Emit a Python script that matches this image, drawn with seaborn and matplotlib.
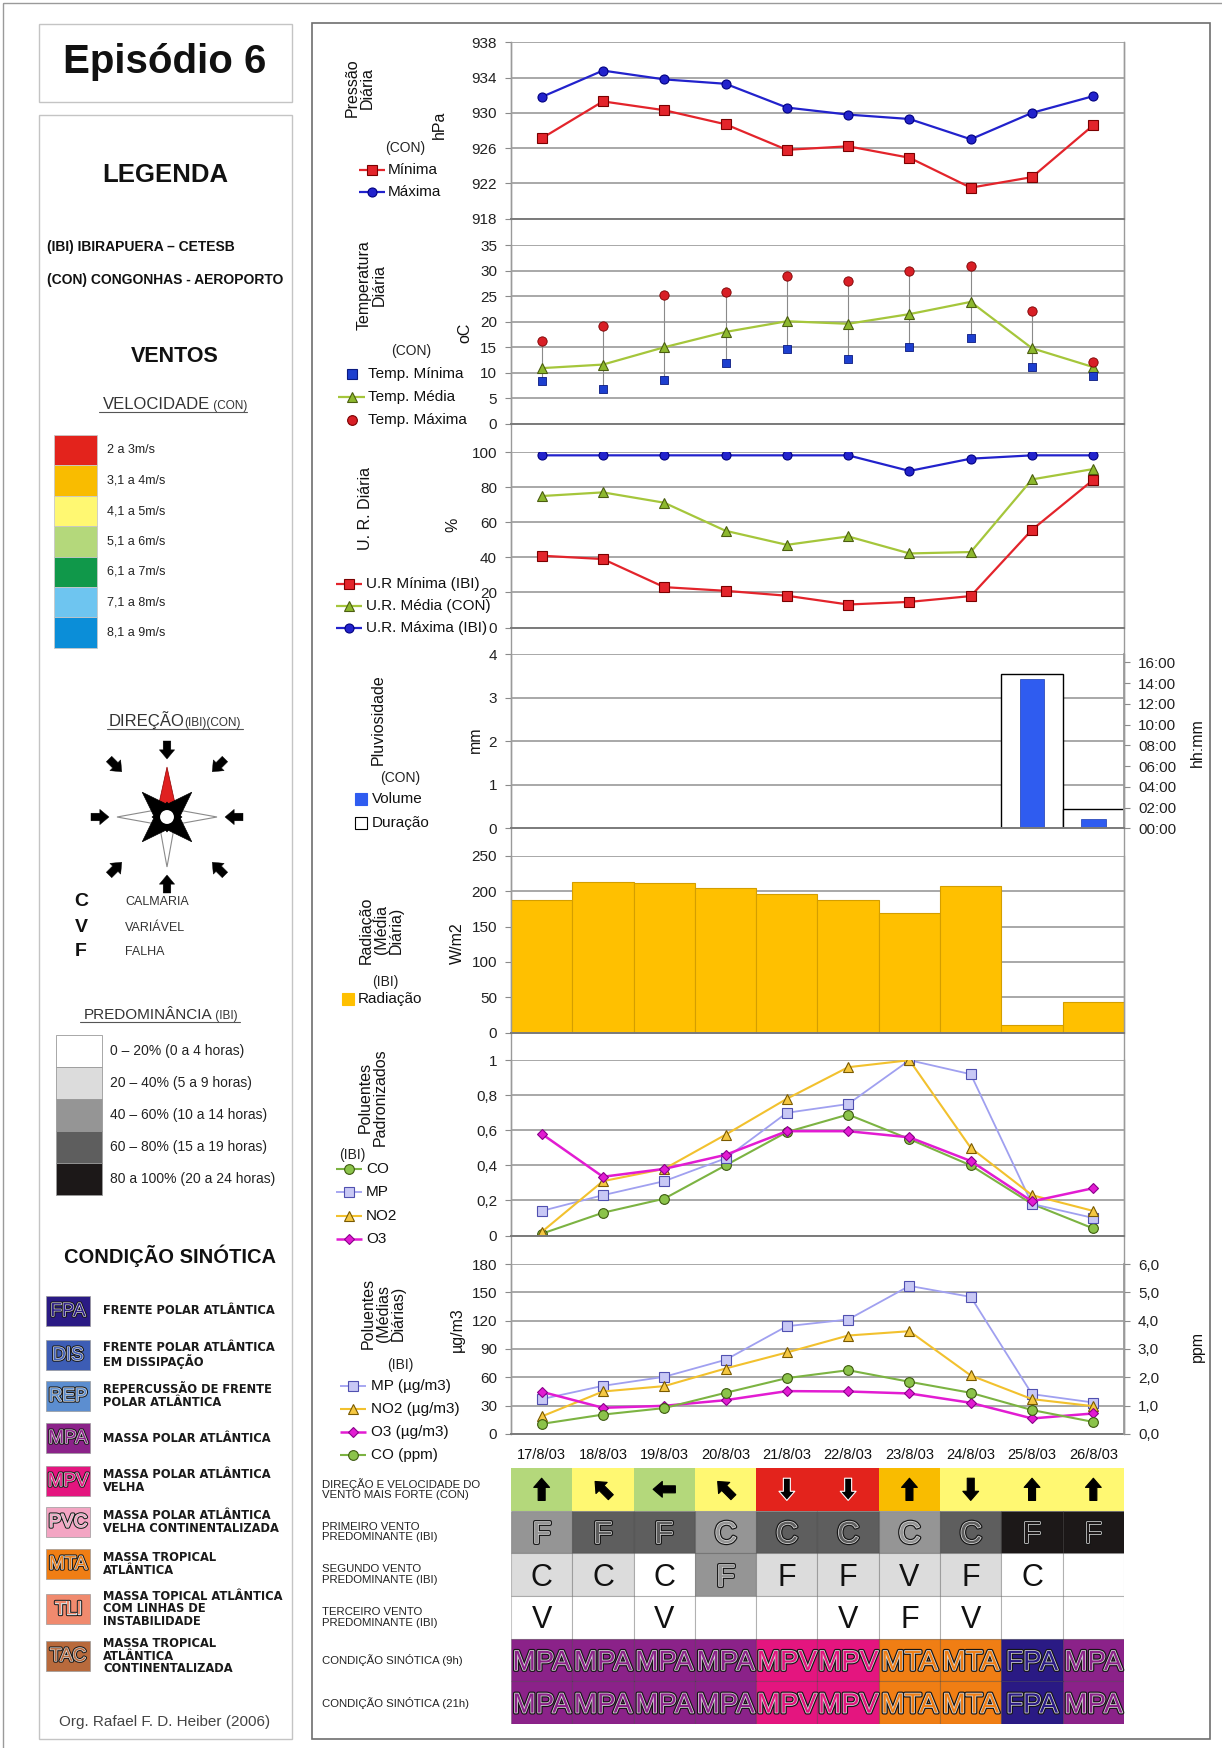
import numpy as np
import pandas as pd
import matplotlib
matplotlib.use("Agg")
import matplotlib.pyplot as plt
import matplotlib.patheffects as pe
from matplotlib.patches import Rectangle, Polygon, Circle
from matplotlib.ticker import FuncFormatter, FixedLocator, NullLocator
from matplotlib.transforms import offset_copy
import seaborn as sns

sns.set_theme(style="white")
plt.rcParams["font.family"] = ["Liberation Sans", "DejaVu Sans"]

# ---------------------------------------------------------------- data
dates = ["17/8/03", "18/8/03", "19/8/03", "20/8/03", "21/8/03",
         "22/8/03", "23/8/03", "24/8/03", "25/8/03", "26/8/03"]

pres_min = [927.1, 931.3, 930.3, 928.7, 925.8, 926.2, 924.9, 921.5, 922.7, 928.6]
pres_max = [931.8, 934.8, 933.8, 933.3, 930.6, 929.8, 929.3, 927.0, 930.0, 931.9]

temp_min = [8.4, 6.9, 8.6, 12.0, 14.6, 12.6, 15.0, 16.9, 11.2, 9.4]
temp_med = [10.9, 11.6, 15.0, 18.0, 20.1, 19.6, 21.5, 23.9, 14.8, 11.1]
temp_max = [16.2, 19.2, 25.2, 25.9, 29.0, 28.0, 29.9, 31.0, 22.2, 12.2]

ur_min = [40.9, 39.0, 23.0, 20.9, 18.1, 13.1, 14.6, 17.9, 55.7, 84.2]
ur_med = [74.9, 77.0, 71.1, 55.1, 47.1, 51.9, 42.2, 43.0, 84.4, 90.3]
ur_max = [98.1, 98.1, 98.1, 98.1, 98.1, 98.1, 89.2, 96.2, 98.1, 98.1]

chuva_mm = [0, 0, 0, 0, 0, 0, 0, 0, 3.43, 0.21]
chuva_horas = [0, 0, 0, 0, 0, 0, 0, 0, 14.9, 1.83]

radiacao = [188, 212.5, 211.5, 204.5, 196, 188, 169.3, 206.8, 10.8, 43.6]

pad_co = [0.01, 0.13, 0.21, 0.40, 0.59, 0.69, 0.55, 0.40, 0.18, 0.04]
pad_mp = [0.14, 0.23, 0.31, 0.44, 0.70, 0.75, 1.00, 0.92, 0.18, 0.10]
pad_no2 = [0.02, 0.31, 0.38, 0.575, 0.78, 0.96, 1.00, 0.50, 0.23, 0.14]
pad_o3 = [0.58, 0.335, 0.38, 0.46, 0.595, 0.595, 0.56, 0.425, 0.195, 0.27]

med_mp = [36.8, 50.9, 60.5, 78.5, 114.2, 121.3, 157.0, 145.3, 42.1, 33.2]
med_no2 = [18.4, 44.9, 50.6, 69.3, 86.3, 104.3, 108.9, 61.9, 36.8, 29.3]
med_o3 = [44.6, 27.6, 29.7, 35.7, 45.3, 44.9, 42.8, 32.9, 16.3, 21.6]
med_co = [0.35, 0.68, 0.91, 1.45, 1.97, 2.25, 1.84, 1.45, 0.84, 0.42]

vento_seta = ["↑", "↖", "←", "↖", "↓", "↓", "↑", "↓", "↑", "↑"]
vento_vel = ["5,1 a 6m/s", "4,1 a 5m/s", "5,1 a 6m/s", "4,1 a 5m/s", "2 a 3m/s",
             "2 a 3m/s", "3,1 a 4m/s", "4,1 a 5m/s", "4,1 a 5m/s", "4,1 a 5m/s"]
vento1 = ["F", "F", "F", "C", "C", "C", "C", "C", "F", "F"]
vento1_pred = [2, 3, 3, 2, 3, 3, 2, 3, 4, 4]
vento2 = ["C", "C", "C", "F", "F", "F", "V", "F", "C", ""]
vento2_pred = [1, 1, 0, 2, 1, 1, 1, 1, 0, 0]
vento3 = ["V", "", "V", "", "", "V", "F", "V", "", ""]
vento3_pred = [0, 0, 0, 0, 0, 0, 0, 0, 0, 0]
sinotica_9h = ["MPA", "MPA", "MPA", "MPA", "MPV", "MPV", "MTA", "MTA", "FPA", "MPA"]
sinotica_21h = ["MPA", "MPA", "MPA", "MPA", "MPV", "MPV", "MTA", "MTA", "FPA", "MPA"]

vel_labels = ["2 a 3m/s", "3,1 a 4m/s", "4,1 a 5m/s", "5,1 a 6m/s",
              "6,1 a 7m/s", "7,1 a 8m/s", "8,1 a 9m/s"]
vel_colors = ["#E3231C", "#F9BC00", "#FFF872", "#B4D87B", "#10984A", "#6EC5F0", "#0B8ED8"]
pred_labels = ["0 – 20% (0 a 4 horas)", "20 – 40% (5 a 9 horas)", "40 – 60% (10 a 14 horas)",
               "60 – 80% (15 a 19 horas)", "80 a 100% (20 a 24 horas)"]
pred_colors = ["#FFFFFF", "#DCDCDC", "#959595", "#5E5E5E", "#1C1818"]
sin_codes = ["FPA", "DIS", "REP", "MPA", "MPV", "PVC", "MTA", "TLI", "TAC"]
sin_colors = ["#2A1A84", "#3D5DB5", "#5C8ED0", "#8B2289", "#E4157F",
              "#F3A5C3", "#F07E14", "#F08A6E", "#B86A3C"]
sin_desc = ["FRENTE POLAR ATLÂNTICA", "FRENTE POLAR ATLÂNTICA\nEM DISSIPAÇÃO",
            "REPERCUSSÃO DE FRENTE\nPOLAR ATLÂNTICA", "MASSA POLAR ATLÂNTICA",
            "MASSA POLAR ATLÂNTICA\nVELHA", "MASSA POLAR ATLÂNTICA\nVELHA CONTINENTALIZADA",
            "MASSA TROPICAL\nATLÂNTICA", "MASSA TOPICAL ATLÂNTICA\nCOM LINHAS DE\nINSTABILIDADE",
            "MASSA TROPICAL\nATLÂNTICA\nCONTINENTALIZADA"]
row_labels = ["DIREÇÃO E VELOCIDADE DO\nVENTO MAIS FORTE (CON)",
              "PRIMEIRO VENTO\nPREDOMINANTE (IBI)",
              "SEGUNDO VENTO\nPREDOMINANTE (IBI)",
              "TERCEIRO VENTO\nPREDOMINANTE (IBI)",
              "CONDIÇÃO SINÓTICA (9h)", "CONDIÇÃO SINÓTICA (21h)"]

# ---------------------------------------------------------------- styles
RED = "#E3242B"
BLUE = "#2222CC"
GREEN = "#A5C63B"
GOLD = "#FFC000"
GRID = "#a8a8a8"
sin_map = dict(zip(sin_codes, sin_colors))
vel_map = dict(zip(vel_labels, vel_colors))
arrow_angle = {"↑": 90, "↖": 135, "←": 180, "↓": 270}

W, H = 1222, 1748
fig = plt.figure(figsize=(W / 100, H / 100), dpi=100)
fig.patch.set_facecolor("white")

ov = fig.add_axes([0, 0, 1, 1])
ov.set_xlim(0, W)
ov.set_ylim(H, 0)
ov.axis("off")
ov.set_zorder(0)

X0, X1 = 511, 1124
xs = np.arange(len(dates))


def outline(color, lw1=2.8, lw2=1.1):
    return dict(color=color, path_effects=[pe.Stroke(linewidth=lw1, foreground="#151515"),
                                           pe.Stroke(linewidth=lw2, foreground="#d8d8d8"),
                                           pe.Normal()])


def panel(y0, y1):
    ax = fig.add_axes([X0 / W, 1 - y1 / H, (X1 - X0) / W, (y1 - y0) / H])
    ax.set_zorder(2)
    ax.patch.set_visible(False)
    return ax


def style(ax, lo, hi, step, fmt=None):
    ax.set_xlim(-0.5, len(dates) - 0.5)
    ax.set_ylim(lo, hi)
    ax.set_yticks(np.arange(lo, hi + step / 2, step))
    if fmt is not None:
        ax.yaxis.set_major_formatter(FuncFormatter(fmt))
    ax.xaxis.set_major_locator(NullLocator())
    ax.set_xlabel("")
    ax.set_ylabel("")
    ax.grid(axis="y", color=GRID, lw=1.4)
    ax.grid(axis="x", visible=False)
    ax.set_axisbelow(True)
    ax.spines["top"].set_visible(False)
    for s in ("left", "right"):
        ax.spines[s].set_color("#9a9a9a")
        ax.spines[s].set_linewidth(1)
    ax.spines["bottom"].set_color("#7a7a7a")
    ax.spines["bottom"].set_linewidth(1.4)
    ax.tick_params(axis="y", which="major", labelsize=11, length=4, width=0.8,
                   color="#8a8a8a", pad=6, labelcolor="#222222", left=True)
    lg = ax.get_legend()
    if lg is not None:
        lg.remove()


def dec(v, p):
    s = f"{v:.1f}".rstrip("0").rstrip(".")
    return s.replace(".", ",")


def line(ax, y, color, marker, ms, mfc, mec, lw=1.6):
    sns.lineplot(x=xs, y=y, ax=ax, color=color, linewidth=lw, marker=marker,
                 markersize=ms, markerfacecolor=mfc, markeredgecolor=mec,
                 markeredgewidth=0.8, errorbar=None)


def leg(y, label, tx, x0=None, x1=None, color=None, lw=1.6, marker=None, ms=7,
        mfc=None, mec=None, fs=11):
    if color is not None and lw:
        ov.plot([x0, x1], [y, y], color=color, lw=lw, solid_capstyle="butt")
    if marker is not None:
        ov.plot([(x0 + x1) / 2], [y], marker=marker, ms=ms, mfc=mfc, mec=mec,
                mew=0.8, ls="none")
    ov.text(tx, y, label, ha="left", va="center", fontsize=fs, color="#111111")


def vtitle(x, y, s, fs=11.5, rot=90):
    ov.text(x, y, s, rotation=rot, ha="center", va="center", fontsize=fs,
            color="#111111", multialignment="center", linespacing=1.0)


# ---------------------------------------------------------------- frames
ov.add_patch(Rectangle((3, 3), 1250, 1770, fill=False, ec="#9a9a9a", lw=1))
ov.add_patch(Rectangle((38.5, 23.5), 253.5, 78, fill=False, ec="#c4c4c4", lw=1))
ov.add_patch(Rectangle((38.5, 114.5), 253.5, 1624.5, fill=False, ec="#c4c4c4", lw=1))
ov.add_patch(Rectangle((312, 23), 898, 1716, fill=False, ec="#6e6e6e", lw=1.2))
ov.plot([X0, X0], [42.4, 1433.8], color="#9a9a9a", lw=1)
ov.plot([X1, X1], [42.4, 1433.8], color="#9a9a9a", lw=1)

# ---------------------------------------------------------------- left legend
ov.text(165, 62, "Episódio 6", ha="center", va="center", fontsize=29,
        fontweight="bold", color="#111111")
ov.text(165, 175, "LEGENDA", ha="center", va="center", fontsize=18.5,
        fontweight="bold", color="#111111")
ov.text(47, 247.5, "(IBI) IBIRAPUERA – CETESB", ha="left", va="center",
        fontsize=10, fontweight="bold", color="#111111")
ov.text(47, 280, "(CON) CONGONHAS - AEROPORTO", ha="left", va="center",
        fontsize=10, fontweight="bold", color="#111111")
ov.text(175, 357, "VENTOS", ha="center", va="center", fontsize=15.5,
        fontweight="bold", color="#111111")

ov.text(210, 409, "VELOCIDADE", ha="right", va="baseline", fontsize=12, color="#333333")
ov.text(210, 409, " (CON)", ha="left", va="baseline", fontsize=8.5, color="#333333")
ov.plot([99, 247], [412, 412], color="#555555", lw=0.8)
for i, (lab, col) in enumerate(zip(vel_labels, vel_colors)):
    y0 = 435 + i * 30.4
    ov.add_patch(Rectangle((53.5, y0), 43.5, 30.4, fc=col, ec="#c8c8c8", lw=0.6))
    ov.text(107, y0 + 15.2, lab, ha="left", va="center", fontsize=9, color="#222222")

ov.text(184, 726, "DIREÇÃO", ha="right", va="baseline", fontsize=12, color="#333333")
ov.text(184, 726, "(IBI)(CON)", ha="left", va="baseline", fontsize=8.5, color="#333333")
ov.plot([107, 243], [729, 729], color="#555555", lw=0.8)

# compass rose
cx, cy = 167, 817


def tri(ang, R, w):
    a = np.deg2rad(ang)
    u = np.array([np.cos(a), -np.sin(a)])
    v = np.array([-u[1], u[0]])
    c = np.array([cx, cy])
    return [c + R * u, c + w * v, c - w * v]


for ang in (0, 180, 270):
    ov.add_patch(Polygon(tri(ang, 50, 9), closed=True, fc="white", ec="#8a8a8a", lw=0.8))
ov.add_patch(Polygon(tri(90, 50, 11), closed=True, fc="#E02020", ec="#900000", lw=0.5))
for ang in (0, 90, 180, 270):
    ov.add_patch(Polygon(tri(ang, 15, 10), closed=True, fc="black", ec="black", lw=0.5))
for ang in (45, 135, 225, 315):
    ov.add_patch(Polygon(tri(ang, 35, 12), closed=True, fc="black", ec="black", lw=0.5))
ov.add_patch(Circle((cx, cy), 8, fc="white", ec="black", lw=1.5))
for ang in range(0, 360, 45):
    a = np.deg2rad(ang)
    r_t, r_h = (76, 58) if ang % 90 == 0 else (82, 64)
    ov.annotate("", xy=(cx + r_h * np.cos(a), cy - r_h * np.sin(a)),
                xytext=(cx + r_t * np.cos(a), cy - r_t * np.sin(a)),
                arrowprops=dict(arrowstyle="simple,head_length=0.6,head_width=1.0,tail_width=0.5",
                                fc="black", ec="black", lw=0.3, shrinkA=0, shrinkB=0,
                                mutation_scale=11))

for ch, lab, y in (("C", "CALMARIA", 902), ("V", "VARIÁVEL", 928), ("F", "FALHA", 952)):
    ov.text(81, y, ch, ha="center", va="center", fontsize=14, fontweight="bold", color="#111111")
    ov.text(125, y, lab, ha="left", va="center", fontsize=9, color="#333333")

ov.text(212, 1019, "PREDOMINÂNCIA", ha="right", va="baseline", fontsize=11, color="#333333")
ov.text(212, 1019, " (IBI)", ha="left", va="baseline", fontsize=8.5, color="#333333")
ov.plot([80, 240], [1022, 1022], color="#555555", lw=0.8)
for i, (lab, col) in enumerate(zip(pred_labels, pred_colors)):
    y0 = 1035 + i * 31.9
    ov.add_patch(Rectangle((56, y0), 45.5, 31.9, fc=col, ec="#9a9a9a", lw=0.6))
    ov.text(110, y0 + 16, lab, ha="left", va="center", fontsize=10, color="#222222")

ov.text(169.5, 1256, "CONDIÇÃO SINÓTICA", ha="center", va="center", fontsize=14.5,
        fontweight="bold", color="#111111")
sin_y = [1311, 1355, 1396, 1438, 1481, 1522, 1564, 1609, 1656]
for code, col, desc, y in zip(sin_codes, sin_colors, sin_desc, sin_y):
    ov.add_patch(Rectangle((46, y - 15), 44, 30, fc=col, ec="#9a9a9a", lw=0.5))
    ov.text(68, y + 0.5, code, ha="center", va="center", fontsize=13.5,
            **outline(col, 2.4, 1.0))
    ov.text(103, y, desc, ha="left", va="center", fontsize=8.3, fontweight="bold",
            family="DejaVu Sans", color="#1a1a1a", linespacing=0.92)

ov.text(165, 1722, "Org. Rafael F. D. Heiber (2006)", ha="center", va="center",
        fontsize=11, color="#444444")

# ---------------------------------------------------------------- P1 pressure
ax1 = panel(42.4, 218.5)
line(ax1, pres_min, RED, "s", 7, RED, "#7a0000")
line(ax1, pres_max, BLUE, "o", 6.5, BLUE, "#000080")
style(ax1, 918, 938, 4)
vtitle(360, 88, "Pressão\nDiária")
vtitle(439, 125, "hPa")
ov.text(405, 148, "(CON)", ha="center", va="center", fontsize=10, color="#222222")
leg(170, "Mínima", 388, 359, 385, RED, 1.6, "s", 7, RED, "#7a0000")
leg(192, "Máxima", 388, 359, 385, BLUE, 1.6, "o", 6.5, BLUE, "#000080")

# ---------------------------------------------------------------- P2 temperature
ax2 = panel(245.3, 423.7)
ax2.vlines(xs, temp_min, temp_max, color="#8a8a8a", lw=0.8, zorder=1.5)
line(ax2, temp_med, GREEN, "^", 7.5, "#8DB82E", "#4b5e10")
sns.scatterplot(x=xs, y=temp_max, ax=ax2, color="#D81F26", marker="o", s=45,
                edgecolor="#7a0000", linewidth=0.6, zorder=3)
sns.scatterplot(x=xs, y=temp_min, ax=ax2, color="#1D3FCF", marker="s", s=40,
                edgecolor="#0a1a80", linewidth=0.6, zorder=3)
style(ax2, 0, 35, 5)
vtitle(372, 285, "Temperatura\nDiária")
vtitle(465, 333, "oC")
ov.text(411, 351, "(CON)", ha="center", va="center", fontsize=10, color="#222222")
leg(374, "Temp. Mínima", 368, 338, 365, None, 0, "s", 6.5, "#1D3FCF", "#0a1a80")
leg(397, "Temp. Média", 368, 338, 365, GREEN, 1.6, "^", 7, "#8DB82E", "#4b5e10")
leg(420, "Temp. Máxima", 368, 338, 365, None, 0, "o", 7, "#D81F26", "#7a0000")

# ---------------------------------------------------------------- P3 humidity
ax3 = panel(452, 627.5)
line(ax3, ur_min, RED, "s", 7, RED, "#7a0000")
line(ax3, ur_med, GREEN, "^", 7.5, "#8DB82E", "#4b5e10")
line(ax3, ur_max, BLUE, "o", 6.5, BLUE, "#000080")
style(ax3, 0, 100, 20)
vtitle(366, 508, "U. R. Diária")
vtitle(453, 525, "%")
leg(584, "U.R Mínima (IBI)", 366, 336, 362, RED, 1.6, "s", 7, RED, "#7a0000")
leg(606, "U.R. Média (CON)", 366, 336, 362, GREEN, 1.6, "^", 7, "#8DB82E", "#4b5e10")
leg(628, "U.R. Máxima (IBI)", 366, 336, 362, BLUE, 1.6, "o", 6.5, BLUE, "#000080")

# ---------------------------------------------------------------- P4 rain
ax4 = panel(654, 828.4)
tw4 = ax4.twinx()
tw4.set_zorder(1)
ax4.set_zorder(2)
ax4.patch.set_visible(False)
df_rain = pd.DataFrame({"data": dates, "mm": chuva_mm, "horas": chuva_horas})
sns.barplot(data=df_rain[df_rain["horas"] > 0], x="data", y="horas", order=dates,
            ax=tw4, width=1, color="white", edgecolor="black", linewidth=1,
            saturation=1, errorbar=None)
sns.barplot(data=df_rain[df_rain["mm"] > 0], x="data", y="mm", order=dates,
            ax=ax4, width=0.4, color="#2F5CF0", edgecolor="#1a3ab0", linewidth=0.5,
            saturation=1, errorbar=None)
style(ax4, 0, 4, 1)
ax4.grid(False)
tw4.set_ylim(0, 16.8)
tw4.set_yticks(np.arange(0, 16.1, 2))
tw4.yaxis.set_major_formatter(FuncFormatter(lambda v, p: f"{int(round(v)):02d}:00"))
tw4.yaxis.set_minor_locator(FixedLocator([4.2, 8.4, 12.6, 16.8]))
tw4.grid(which="minor", axis="y", color=GRID, lw=1.4)
tw4.grid(which="major", visible=False)
tw4.set_axisbelow(True)
tw4.set_ylabel("")
tw4.set_xlabel("")
for s in ("top", "left", "bottom"):
    tw4.spines[s].set_visible(False)
tw4.spines["right"].set_color("#9a9a9a")
tw4.tick_params(axis="y", which="major", labelsize=11, length=4, width=0.8,
                color="#8a8a8a", pad=6, labelcolor="#222222", right=True)
tw4.tick_params(axis="y", which="minor", length=0)
ax4.xaxis.set_major_locator(NullLocator())
ax4.set_xlim(-0.5, len(dates) - 0.5)
ax4.set_xlabel("")
vtitle(378, 720, "Pluviosidade")
vtitle(475, 740, "mm")
vtitle(1197, 743, "hh:mm")
ov.text(400, 778, "(CON)", ha="center", va="center", fontsize=10, color="#222222")
leg(799, "Volume", 372, 356, 366, None, 0, "s", 9, "#2F5CF0", "#2F5CF0")
leg(823, "Duração", 372, 356, 366, None, 0, "s", 9, "white", "black")

# ---------------------------------------------------------------- P5 radiation
ax5 = panel(855.7, 1032.7)
sns.barplot(x=dates, y=radiacao, ax=ax5, width=1, color=GOLD, edgecolor="#d49e00",
            linewidth=0.8, saturation=1, errorbar=None)
style(ax5, 0, 250, 50)
vtitle(381, 930, "Radiação\n(Média\nDiária)")
vtitle(457, 943, "W/m2")
ov.text(385, 982, "(IBI)", ha="center", va="center", fontsize=10, color="#222222")
leg(999, "Radiação", 358, 343, 353, None, 0, "s", 9, GOLD, GOLD)

# ---------------------------------------------------------------- P6 normalised pollutants
C_CO, C_MP, C_NO2, C_O3 = "#7CB342", "#A0A0F0", "#F2C12E", "#E21CD2"
M_CO = ("o", 7, "#8BC34A", "#3d5a10")
M_MP = ("s", 7, "#C8C8F5", "#5050B0")
M_NO2 = ("^", 7.5, "#F5C842", "#7a5a00")
M_O3 = ("D", 5.5, "#E21CD2", "#8a008a")
ax6 = panel(1060.2, 1235.5)
line(ax6, pad_co, C_CO, *M_CO, lw=1.5)
line(ax6, pad_mp, C_MP, *M_MP, lw=1.3)
line(ax6, pad_no2, C_NO2, *M_NO2, lw=1.5)
line(ax6, pad_o3, C_O3, *M_O3, lw=1.8)
style(ax6, 0, 1, 0.2, dec)
vtitle(373, 1097, "Poluentes\nPadronizados")
ov.text(352, 1155, "(IBI)", ha="center", va="center", fontsize=10, color="#222222")
leg(1169, "CO", 366, 336, 362, C_CO, 1.5, *M_CO)
leg(1192, "MP", 366, 336, 362, C_MP, 1.3, *M_MP)
leg(1216, "NO2", 366, 336, 362, C_NO2, 1.5, *M_NO2)
leg(1239, "O3", 366, 336, 362, C_O3, 1.8, *M_O3)

# ---------------------------------------------------------------- P7 daily mean pollutants
ax7 = panel(1264.2, 1433.8)
line(ax7, med_mp, C_MP, *M_MP, lw=1.3)
line(ax7, med_no2, C_NO2, *M_NO2, lw=1.5)
line(ax7, med_o3, C_O3, *M_O3, lw=1.8)
tw7 = ax7.twinx()
tw7.set_zorder(3)
line(tw7, med_co, C_CO, *M_CO, lw=1.5)
style(ax7, 0, 180, 30)
tw7.set_ylim(0, 6)
tw7.set_yticks(np.arange(0, 6.1, 1))
tw7.yaxis.set_major_formatter(FuncFormatter(lambda v, p: f"{v:.1f}".replace(".", ",")))
tw7.grid(False)
tw7.set_ylabel("")
for s in ("top", "left", "bottom"):
    tw7.spines[s].set_visible(False)
tw7.spines["right"].set_color("#9a9a9a")
tw7.tick_params(axis="y", labelsize=11, length=4, width=0.8, color="#8a8a8a",
                pad=6, labelcolor="#222222", right=True)
ax7.set_xlim(-0.5, len(dates) - 0.5)
ax7.set_xticks(xs)
ax7.set_xticklabels(dates)
ax7.tick_params(axis="x", labelsize=10.5, length=0, pad=10, labelcolor="#111111",
                bottom=True)
vtitle(383, 1313, "Poluentes\n(Médias\nDiárias)")
vtitle(457, 1330, "µg/m3")
vtitle(1197, 1347, "ppm")
ov.text(400, 1365, "(IBI)", ha="center", va="center", fontsize=10, color="#222222")
leg(1386, "MP (µg/m3)", 371, 340, 366, C_MP, 1.3, *M_MP)
leg(1409, "NO2 (µg/m3)", 371, 340, 366, C_NO2, 1.5, *M_NO2)
leg(1432, "O3 (µg/m3)", 371, 340, 366, C_O3, 1.8, *M_O3)
leg(1455, "CO (ppm)", 371, 340, 366, C_CO, 1.5, *M_CO)

# ---------------------------------------------------------------- table
T0, T1 = 1468, 1724
axt = fig.add_axes([X0 / W, 1 - T1 / H, (X1 - X0) / W, (T1 - T0) / H])
axt.set_zorder(2)
axt.set_xlim(-0.5, len(dates) - 0.5)
axt.set_ylim(6, 0)
axt.axis("off")
EDGE = (0, 0, 0, 0.22)
axt.bar(xs, 1, bottom=0, width=1, color=[vel_map[v] for v in vento_vel], edgecolor="none")
for r, (letters, pred) in enumerate(((vento1, vento1_pred), (vento2, vento2_pred),
                                     (vento3, vento3_pred)), start=1):
    axt.bar(xs, 1, bottom=r, width=1, color=[pred_colors[p] for p in pred],
            edgecolor=EDGE, linewidth=0.8)
    base = offset_copy(axt.transData, fig=fig, y=-22 * 0.716 / 2, units="points")
    for i, (ch, p) in enumerate(zip(letters, pred)):
        if not ch:
            continue
        if p >= 2:
            axt.text(i, r + 0.5, ch, transform=base, ha="center", va="baseline",
                     fontsize=22, **outline(pred_colors[p]))
        else:
            axt.text(i, r + 0.5, ch, transform=base, ha="center", va="baseline",
                     fontsize=22, color="#111111")
for r, sin in ((4, sinotica_9h), (5, sinotica_21h)):
    axt.bar(xs, 1, bottom=r, width=1, color=[sin_map[s] for s in sin],
            edgecolor=EDGE, linewidth=0.8)
    base = offset_copy(axt.transData, fig=fig, y=-20 * 0.716 / 2, units="points")
    for i, s in enumerate(sin):
        axt.text(i, r + 0.5, s, transform=base, ha="center", va="baseline",
                 fontsize=20, **outline(sin_map[s], 2.8, 1.1))

L = 8.0
for i, (seta, vel) in enumerate(zip(vento_seta, vento_vel)):
    a = np.deg2rad(arrow_angle[seta])
    head = offset_copy(axt.transData, fig=fig, x=L * np.cos(a), y=L * np.sin(a), units="points")
    tail = offset_copy(axt.transData, fig=fig, x=-L * np.cos(a), y=-L * np.sin(a), units="points")
    ec = "white" if vel == vel_labels[0] else "black"
    axt.annotate("", xy=(i, 0.5), xycoords=head, xytext=(i, 0.5), textcoords=tail,
                 arrowprops=dict(arrowstyle="simple,head_length=0.55,head_width=0.95,tail_width=0.42",
                                 fc="black", ec=ec, lw=0.8, shrinkA=0, shrinkB=0,
                                 mutation_scale=12))

for r, lab in enumerate(row_labels):
    ov.text(322, T0 + (r + 0.5) * (T1 - T0) / 6, lab, ha="left", va="center",
            fontsize=8.2, color="#222222", linespacing=1.05)

fig.savefig("out.png", dpi=100)
